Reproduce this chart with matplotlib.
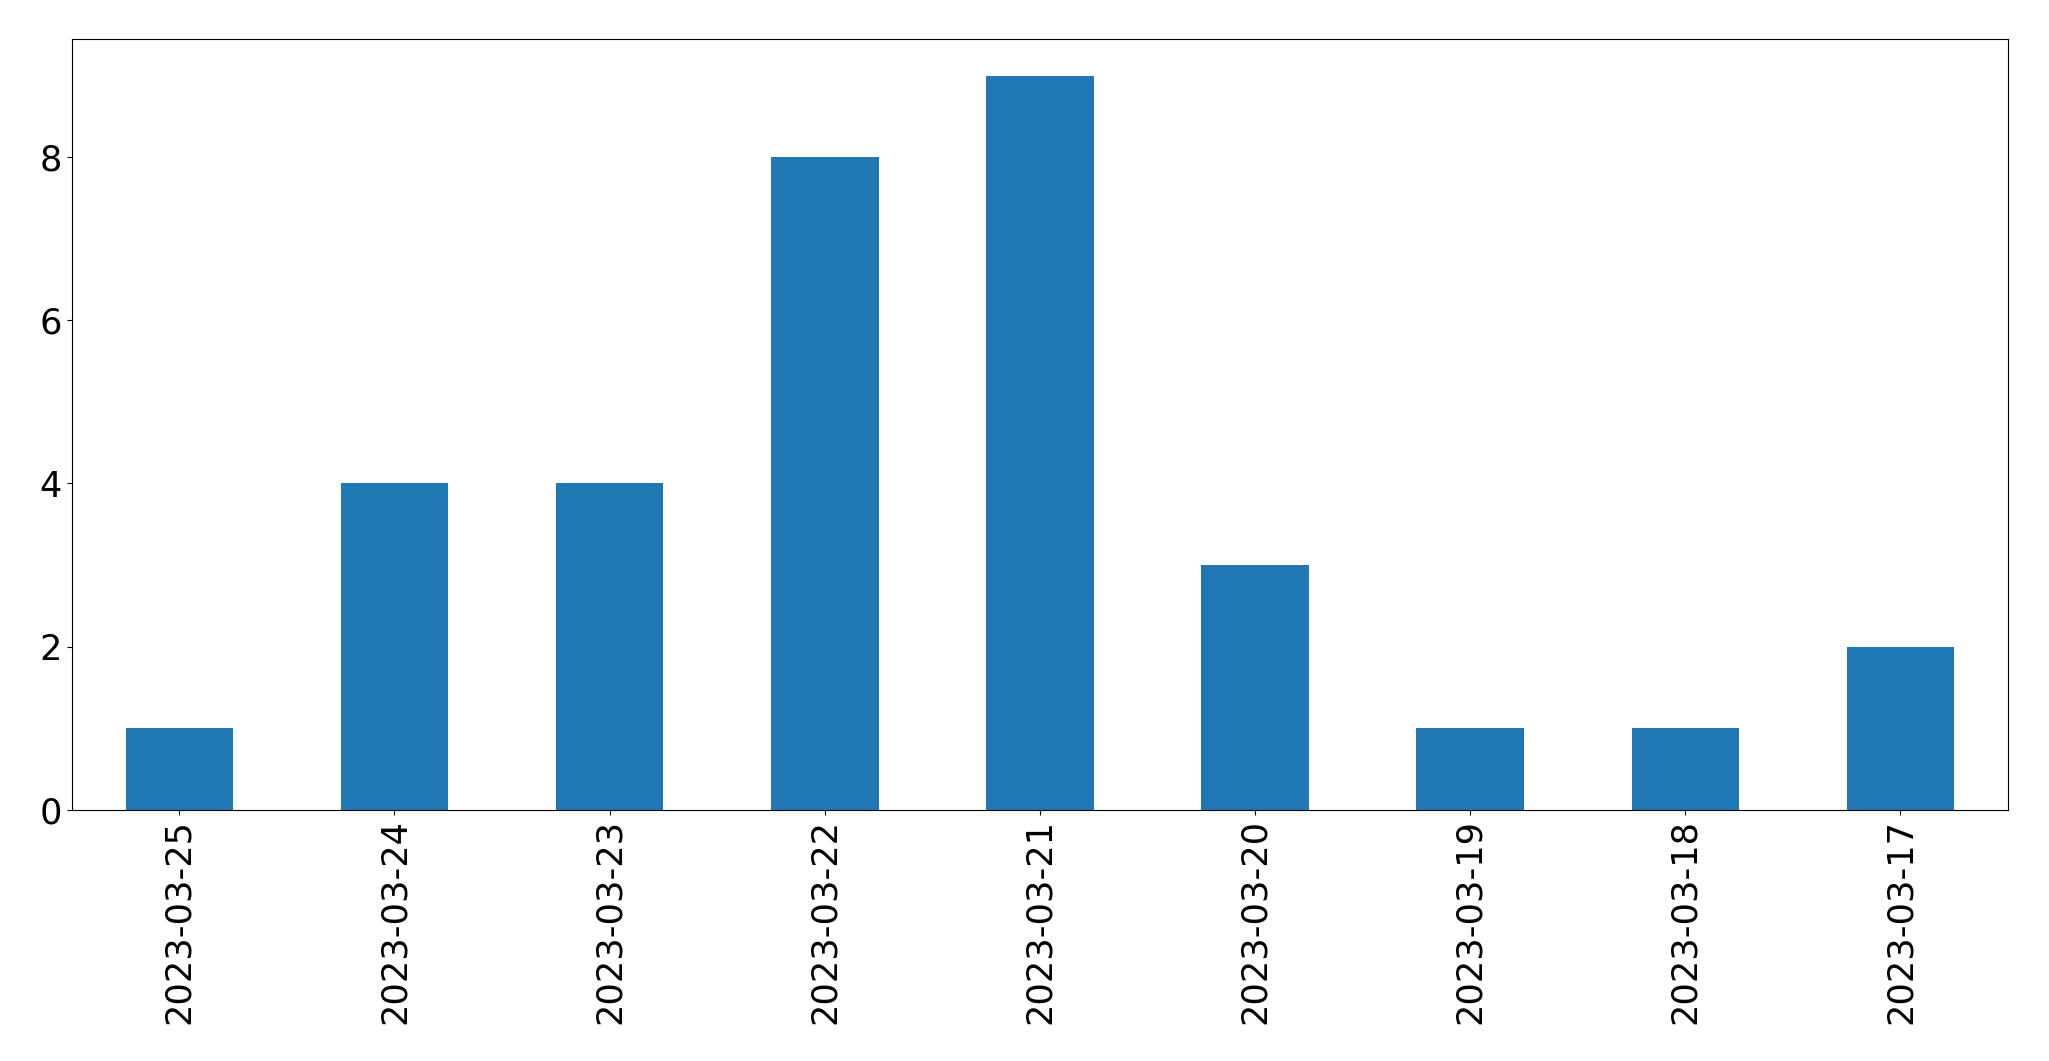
import pandas as pd
import matplotlib
matplotlib.use('Agg')
import matplotlib.pyplot as plt

# ======= Dados =======
datas = ['2023-03-25', '2023-03-24', '2023-03-23', '2023-03-22', '2023-03-21',
         '2023-03-20', '2023-03-19', '2023-03-18', '2023-03-17']
contagens = [1, 4, 4, 8, 9, 3, 1, 1, 2]

serie = pd.Series(contagens, index=datas)

# ======= Figura =======
fig, ax = plt.subplots(figsize=(20.49, 10.61), dpi=100)
serie.plot(kind='bar', ax=ax, color='#1f77b4', fontsize=25.3)

ax.set_xlabel('')
ax.set_yticks([0, 2, 4, 6, 8])
fig.subplots_adjust(left=0.035, right=0.98, top=0.963, bottom=0.237)

fig.savefig('out.png', dpi=100)
